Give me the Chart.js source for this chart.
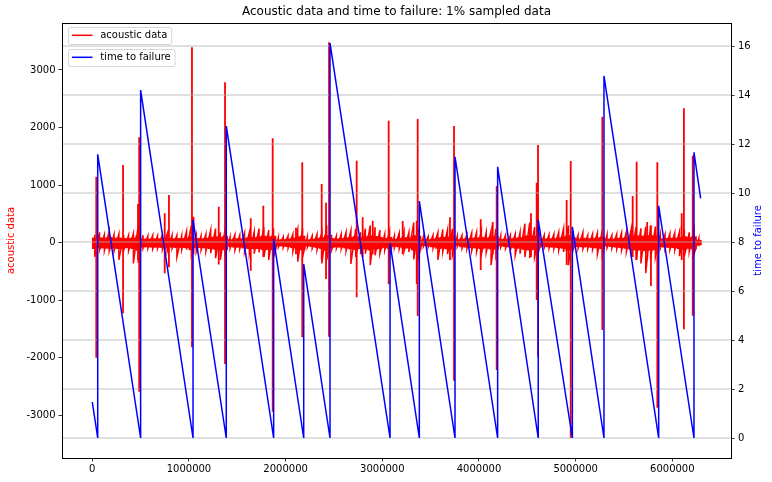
<!DOCTYPE html>
<html><head><meta charset="utf-8">
<script src="https://cdn.jsdelivr.net/npm/chart.js@4"></script>
<style>html,body{margin:0;padding:0;background:#fff;}#c{display:block;}</style>
</head><body>
<canvas id="c" width="772" height="482"></canvas>
<script>
const chartTitle = 'Acoustic data and time to failure: 1% sampled data';
const acousticLabel = 'acoustic data';
const ttfLabel = 'time to failure';

// acoustic data, per bin of BIN_SIZE samples
const BIN_SIZE = 50000;
// dense core of the noise band (min / max of the solid part)
const coreHigh = [90,90,85,100,85,90,80,80,90,130,70,70,75,75,80,85,75,80,80,90,
  120,80,75,85,100,110,100,120,60,75,75,85,95,95,110,120,110,120,55,60,
  70,85,110,120,55,65,80,95,130,80,70,80,90,100,115,95,110,125,115,100,
  80,100,65,80,95,90,130,120,55,60,70,90,100,105,115,60,70,75,85,90,
  100,90,100,115,65,70,75,85,95,125,130,120,70,70,75,80,90,110,130,90,
  70,85,75,80,90,100,70,70,80,85,95,115,125,120,125,130,125,75,80,85,
  85,95,110,95,110,50];
const coreLow = [-110,-100,-100,-105,-100,-110,-95,-95,-110,-140,-80,-80,-85,-85,-90,-100,-85,-95,-90,-95,
  -130,-95,-90,-100,-110,-120,-120,-130,-70,-85,-85,-100,-110,-110,-110,-130,-125,-130,-60,-65,
  -75,-95,-130,-130,-60,-75,-90,-110,-140,-90,-80,-85,-100,-115,-125,-110,-115,-135,-120,-110,
  -90,-110,-70,-80,-100,-100,-135,-130,-55,-65,-80,-105,-105,-115,-120,-55,-80,-85,-95,-100,
  -110,-100,-115,-120,-60,-75,-85,-100,-105,-125,-135,-125,-80,-70,-80,-85,-95,-105,-140,-85,
  -75,-80,-80,-90,-100,-110,-65,-75,-85,-95,-105,-120,-135,-135,-145,-135,-130,-75,-85,-90,
  -95,-110,-120,-105,-115,-45];
// outer tips of the noise band (extreme min / max per bin)
const tipHigh = [140,180,140,200,140,150,130,130,160,300,130,120,130,120,140,150,130,130,120,200,
  300,130,120,150,220,245,180,250,100,140,130,170,180,185,245,270,220,250,90,100,
  120,150,230,250,100,120,150,180,300,140,120,150,180,210,240,180,245,300,270,220,
  150,200,120,170,200,180,350,250,100,110,130,180,230,230,240,110,130,140,170,180,
  210,180,210,240,120,130,130,150,180,330,350,270,130,130,140,150,180,245,300,200,
  130,180,130,150,170,200,140,130,150,170,190,240,270,250,280,300,280,140,150,160,
  170,200,230,180,230,80];
const tipLow = [-245,-130,-140,-150,-150,-300,-130,-140,-360,-350,-100,-100,-110,-100,-120,-150,-100,-250,-120,-120,
  -200,-160,-130,-150,-180,-270,-300,-200,-100,-130,-110,-160,-200,-190,-170,-250,-300,-250,-80,-90,
  -100,-150,-330,-250,-80,-100,-130,-360,-300,-130,-100,-110,-150,-370,-250,-200,-190,-390,-220,-190,
  -130,-200,-90,-110,-150,-160,-290,-250,-70,-80,-100,-300,-160,-200,-220,-70,-100,-110,-140,-160,
  -200,-170,-390,-220,-80,-100,-130,-215,-190,-250,-270,-250,-110,-90,-100,-110,-130,-160,-390,-120,
  -100,-110,-110,-120,-200,-200,-90,-100,-110,-130,-160,-240,-300,-360,-530,-280,-250,-100,-110,-120,
  -130,-235,-235,-160,-200,-60];

// acoustic data: isolated spikes (sample index, min, max)
const spikeX = [41000,318000,473000,485000,749000,793000,1031000,1047000,1308000,1373000,
  1639000,1769000,1866000,2107000,2172000,2373000,2418000,2449000,2735000,2797000,
  2901000,3066000,3211000,3356000,3366000,3700000,3742000,4018000,4142000,4183000,
  4538000,4597000,4611000,4907000,4949000,5276000,5590000,5631000,5740000,5779000,
  5845000,6097000,6120000,6211000];
const spikeHigh = [1146,1350,672,1831,510,829,3394,450,625,2786,
  424,643,1813,260,1397,1020,695,3481,1424,441,
  380,2119,377,380,2149,441,2027,406,360,985,
  510,1042,1697,742,1419,2189,811,1407,360,300,
  1397,510,2334,1511];
const spikeLow = [-1998,-1227,-300,-2588,-532,-427,-1817,-200,-380,-2107,
  -486,-250,-2935,-200,-1643,-300,-630,-1633,-948,-250,
  -200,-723,-200,-717,-1273,-300,-2397,-474,-200,-2211,
  -250,-995,-1991,-387,-3392,-1516,-250,-300,-300,-752,
  -2866,-300,-1505,-1268];

// time to failure
const ttfX = [0,56000,56000,500000,500000,1042000,1042000,1386000,1386000,1876000,1876000,
  2187000,2187000,2459000,2459000,3080000,3080000,3383000,3383000,3752000,3752000,
  4193000,4193000,4613000,4613000,4966000,4966000,5293000,5293000,5859000,5859000,
  6224000,6224000,6293000];
const ttfY = [1.47,0,11.58,0,14.20,0,8.90,0,12.73,0,8.12,
  0,7.10,0,16.12,0,7.95,0,9.67,0,11.48,
  0,11.07,0,8.90,0,8.62,0,14.78,0,9.48,
  0,11.66,9.78];

const xTicks = [0,1000000,2000000,3000000,4000000,5000000,6000000];
const yTicks = [-3000,-2000,-1000,0,1000,2000,3000];
const y2Ticks = [0,2,4,6,8,10,12,14,16];

const F = 'DejaVu Sans';
Chart.defaults.font.family = F;

const binCenter = i => (i + 0.5) * BIN_SIZE;
const coreData = coreHigh.map((h, i) => ({x: binCenter(i), y: [coreLow[i], h]}));
const tipData = [];
tipHigh.forEach((h, i) => { tipData.push({x: binCenter(i), y: h}, {x: binCenter(i), y: tipLow[i]}); });
const spikeData = [];
spikeX.forEach((x, i) => {
  spikeData.push({x: x, y: spikeLow[i]}, {x: x, y: spikeHigh[i]}, {x: x, y: null});
});
const ttfData = ttfX.map((x, i) => ({x: x, y: ttfY[i]}));

function rrect(ctx, x, y, w, h, r) {
  ctx.beginPath();
  ctx.moveTo(x + r, y);
  ctx.lineTo(x + w - r, y); ctx.arcTo(x + w, y, x + w, y + r, r);
  ctx.lineTo(x + w, y + h - r); ctx.arcTo(x + w, y + h, x + w - r, y + h, r);
  ctx.lineTo(x + r, y + h); ctx.arcTo(x, y + h, x, y + h - r, r);
  ctx.lineTo(x, y + r); ctx.arcTo(x, y, x + r, y, r);
  ctx.closePath();
}
function legendBox(ctx, x, y, color, text) {
  ctx.save();
  ctx.font = '10px "' + F + '"';
  const tw = ctx.measureText(text).width;
  const w = 31.7 + tw + 4.3, h = 17;
  rrect(ctx, x, y, w, h, 2);
  ctx.fillStyle = 'rgba(255,255,255,0.8)';
  ctx.fill();
  ctx.strokeStyle = 'rgba(204,204,204,0.8)';
  ctx.lineWidth = 1;
  ctx.stroke();
  ctx.beginPath();
  ctx.moveTo(x + 3.4, y + 7.8); ctx.lineTo(x + 24, y + 7.8);
  ctx.strokeStyle = color; ctx.lineWidth = 1.5; ctx.stroke();
  ctx.fillStyle = '#000';
  ctx.textBaseline = 'middle';
  ctx.textAlign = 'left';
  ctx.fillText(text, x + 31.7, y + 8.3);
  ctx.restore();
}

const overlay = {
  id: 'overlay',
  afterDatasetDraw(chart, args) {
    if (args.index !== 2) return;
    const ctx = chart.ctx, a = chart.chartArea, s = chart.scales.y2;
    ctx.save();
    ctx.strokeStyle = '#b0b0b0';
    ctx.lineWidth = 0.8;
    ctx.beginPath();
    y2Ticks.forEach(v => {
      const y = s.getPixelForValue(v);
      ctx.moveTo(a.left, y); ctx.lineTo(a.right, y);
    });
    ctx.stroke();
    ctx.restore();
  },
  afterDraw(chart) {
    const ctx = chart.ctx, a = chart.chartArea;
    ctx.save();
    ctx.strokeStyle = '#000';
    ctx.lineWidth = 1;
    ctx.strokeRect(a.left + 0.5, a.top + 0.5, a.right - a.left, a.bottom - a.top);
    ctx.translate(758, (a.top + a.bottom) / 2);
    ctx.rotate(-Math.PI / 2);
    ctx.font = '10px "' + F + '"';
    ctx.fillStyle = '#0000ff';
    ctx.textAlign = 'center';
    ctx.textBaseline = 'middle';
    ctx.fillText(ttfLabel, 0, 0);
    ctx.restore();
    legendBox(ctx, 68.5, 27.5, '#ff0000', acousticLabel);
    legendBox(ctx, 68.5, 49.5, '#0000ff', ttfLabel);
  }
};

const tickFont = {family: F, size: 10};
const tickGrid = {display: true, drawOnChartArea: false, drawTicks: true, offset: false,
  tickLength: 3.5, tickColor: '#000', tickWidth: 0.8};
new Chart(document.getElementById('c'), {
  type: 'line',
  data: {
    datasets: [
      {type: 'bar', label: acousticLabel, data: coreData, backgroundColor: '#ff0000', borderWidth: 0,
        barPercentage: 1.15, categoryPercentage: 1, order: 4, xAxisID: 'x', yAxisID: 'y'},
      {type: 'line', label: acousticLabel, data: tipData, borderColor: '#ff0000', borderWidth: 1.5,
        pointRadius: 0, tension: 0, order: 3, xAxisID: 'x', yAxisID: 'y'},
      {type: 'line', label: acousticLabel, data: spikeData, borderColor: '#ff0000', borderWidth: 1.8,
        pointRadius: 0, spanGaps: false, tension: 0, order: 2, xAxisID: 'x', yAxisID: 'y'},
      {type: 'line', label: ttfLabel, data: ttfData, borderColor: '#0000ff', borderWidth: 1.5,
        pointRadius: 0, tension: 0, order: 1, xAxisID: 'x', yAxisID: 'y2'}
    ]
  },
  options: {
    responsive: false,
    animation: false,
    events: [],
    layout: {padding: 0},
    plugins: {
      legend: {display: false},
      tooltip: {enabled: false},
      title: {display: true, text: chartTitle, color: '#000', fullSize: false,
        font: {family: F, size: 12, weight: 'normal'}, padding: {top: 5, bottom: 3.6}}
    },
    scales: {
      x: {type: 'linear', min: -313400, max: 6607000, offset: false,
        afterBuildTicks: s => { s.ticks = xTicks.map(v => ({value: v})); },
        afterFit: s => { s.height = 24; },
        grid: tickGrid,
        border: {display: false},
        ticks: {color: '#000', font: tickFont, padding: 2, maxRotation: 0, autoSkip: false, callback: v => String(v)}
      },
      y: {type: 'linear', position: 'left', min: -3740, max: 3816,
        afterBuildTicks: s => { s.ticks = yTicks.map(v => ({value: v})); },
        afterFit: s => { s.width = 62; },
        grid: tickGrid,
        border: {display: false},
        title: {display: true, text: acousticLabel, color: '#ff0000', font: tickFont, padding: {top: 5.5, bottom: 0}},
        ticks: {color: '#000', font: tickFont, padding: 3, autoSkip: false, callback: v => String(v)}
      },
      y2: {type: 'linear', position: 'right', min: -0.816, max: 16.939,
        afterBuildTicks: s => { s.ticks = y2Ticks.map(v => ({value: v})); },
        afterFit: s => { s.width = 41; },
        grid: tickGrid,
        border: {display: false},
        ticks: {color: '#000', font: tickFont, padding: 3.5, autoSkip: false, callback: v => String(v)}
      }
    }
  },
  plugins: [overlay]
});
</script>
</body></html>
